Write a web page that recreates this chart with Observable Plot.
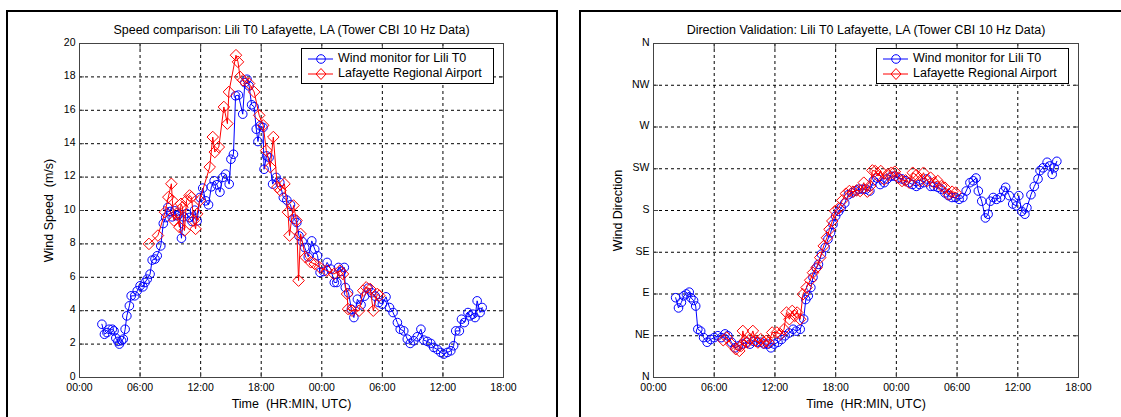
<!DOCTYPE html>
<html>
<head>
<meta charset="utf-8">
<script src="https://cdn.jsdelivr.net/npm/d3@7"></script>
<script src="https://cdn.jsdelivr.net/npm/@observablehq/plot@0.6"></script>
<style>
  html, body { margin: 0; padding: 0; background: white; }
  #wrap { position: relative; width: 1121px; height: 417px; overflow: hidden; background: white;
          font-family: "Liberation Sans", Arial, sans-serif; }
  .panel-svg { position: absolute; top: 0; }
  .border { position: absolute; border: 2px solid black; pointer-events: none; z-index: 5; }
  .legend { position: absolute; border: 1px solid black; background: white; z-index: 6;
            font-size: 12.5px; color: black; box-sizing: border-box; }
  .legend .row { position: absolute; left: 0; height: 14px; display: block; }
  .legend svg { position: absolute; left: 5px; top: 0; }
  .legend span { position: absolute; left: 36px; top: -1px; white-space: nowrap; line-height: 15px; }
</style>
</head>
<body>
<div id="wrap"></div>
<script>
// ---------- DATA ----------
const timeTicks = [0, 6, 12, 18, 24, 30, 36, 42];
const timeTickLabels = ["00:00", "06:00", "12:00", "18:00", "00:00", "06:00", "12:00", "18:00"];
const speedTicks = [0, 2, 4, 6, 8, 10, 12, 14, 16, 18, 20];
const dirTicks = [0, 45, 90, 135, 180, 225, 270, 315, 360];
const dirTickLabels = ["N", "NE", "E", "SE", "S", "SW", "W", "NW", "N"];
const seriesNames = ["Wind monitor for Lili T0", "Lafayette Regional Airport"];

// Wind monitor speed (hours since 00:00 UTC day 1, m/s)
const monitorSpeedHours = [2.22,2.47,2.72,2.93,3.25,3.42,3.60,3.81,3.95,4.17,4.34,4.52,4.69,4.94,5.12,5.47,5.72,6.00,6.28,6.49,6.71,6.99,7.20,7.48,7.70,8.05,8.30,8.54,8.75,8.97,9.18,9.42,9.67,9.88,10.10,10.30,10.60,10.87,11.15,11.40,11.65,11.93,12.21,12.50,12.78,13.06,13.34,13.62,13.91,14.19,14.47,14.83,15.00,15.25,15.46,15.74,16.17,16.38,16.59,16.80,17.05,17.30,17.51,17.68,17.90,18.18,18.28,18.53,18.78,19.13,19.48,19.84,20.19,20.54,20.90,21.25,21.53,21.74,22.06,22.31,22.66,23.01,23.30,23.58,23.83,24.18,24.53,24.89,25.24,25.49,25.66,25.94,26.23,26.33,26.65,26.93,27.18,27.53,27.89,28.24,28.59,28.94,29.30,29.65,30.00,30.36,30.71,31.06,31.49,31.77,32.12,32.47,32.76,33.11,33.46,33.82,34.10,34.45,34.80,35.09,35.44,35.79,36.08,36.43,36.78,37.06,37.27,37.63,37.84,38.12,38.48,38.69,38.97,39.18,39.39,39.68,39.89];
const monitorSpeed = [3.19,2.59,2.69,2.89,2.89,2.79,2.36,2.16,2.00,2.20,2.30,2.89,3.69,4.29,4.89,4.89,5.19,5.49,5.43,5.69,5.89,6.19,7.03,7.09,7.29,7.88,9.22,9.58,10.18,9.94,9.62,9.98,9.68,9.78,8.34,9.62,9.82,9.58,9.34,10.02,9.38,10.78,11.34,10.58,10.34,11.42,11.78,11.54,11.10,11.98,12.18,11.58,13.07,13.37,16.87,16.91,15.77,17.66,17.86,17.46,16.33,16.21,14.87,14.13,15.07,14.97,12.47,13.27,13.17,11.58,11.98,11.68,10.78,10.62,10.34,9.48,9.28,8.48,8.14,7.78,7.23,8.18,7.68,7.29,6.29,6.35,6.89,6.49,5.69,5.69,6.59,6.35,6.59,5.39,5.07,4.09,3.59,4.69,4.35,4.87,5.35,5.07,4.87,4.49,4.39,4.83,4.19,3.89,3.29,2.89,2.79,2.30,2.04,2.20,2.44,2.89,2.24,2.16,2.04,1.80,1.68,1.50,1.40,1.50,1.60,1.90,2.79,2.79,3.49,3.29,3.89,3.69,3.79,3.59,4.59,3.89,4.19];

// Airport speed
const airportSpeedHours = [6.88,7.77,8.47,8.80,9.10,9.20,9.35,9.60,9.90,10.05,10.20,10.40,10.60,10.90,11.10,11.30,11.50,11.65,11.90,12.90,13.20,13.40,13.80,14.30,14.65,14.80,15.50,15.70,15.90,16.20,16.80,17.30,17.80,18.20,18.50,18.90,19.20,19.60,19.90,20.30,20.65,20.80,21.20,21.50,21.70,21.90,22.40,22.90,23.30,23.80,24.50,25.20,25.80,26.10,26.50,26.60,27.00,27.70,28.10,28.40,28.80,29.10,29.50,29.70];
const airportSpeed = [8.0,8.5,9.9,10.8,11.6,10.6,9.4,9.8,9.0,10.4,10.2,8.8,10.6,10.9,10.8,9.4,8.9,9.8,10.6,12.6,14.4,13.5,13.8,16.2,15.2,17.1,19.3,18.9,18.0,17.8,17.6,17.1,15.7,15.1,13.6,12.6,14.4,11.4,11.2,11.6,9.9,8.5,10.3,9.4,5.8,8.6,7.2,6.9,6.8,6.6,6.4,6.2,6.4,6.2,5.0,4.1,4.0,4.0,5.2,5.4,5.3,4.0,5.0,4.9];

// Wind monitor direction (degrees)
const monitorDirHours = [2.19,2.47,2.76,3.00,3.25,3.53,3.70,3.96,4.17,4.38,4.66,4.95,5.30,5.65,6.00,6.36,6.70,7.07,7.35,7.70,8.06,8.40,8.76,9.19,9.54,9.90,10.25,10.60,10.95,11.30,11.60,11.94,12.30,12.65,13.00,13.40,13.80,14.10,14.50,14.84,15.05,15.30,15.55,15.76,16.08,16.30,16.60,16.96,17.24,17.50,17.74,18.00,18.30,18.55,18.90,19.26,19.60,19.96,20.30,20.67,21.00,21.38,21.73,22.08,22.40,22.80,23.10,23.50,23.85,24.20,24.56,24.90,25.26,25.60,25.97,26.30,26.70,27.00,27.40,27.70,28.10,28.40,28.80,29.15,29.50,29.86,30.20,30.57,30.90,31.27,31.60,31.87,32.10,32.44,32.80,33.07,33.29,33.57,33.90,34.28,34.60,34.80,35.16,35.50,35.87,36.10,36.40,36.70,36.90,37.30,37.63,38.00,38.20,38.50,38.90,39.15,39.40,39.60,39.86];
const monitorDir = [86,75,81,88,90,92,86,83,77,52,50,43,38,41,43,45,43,47,45,38,32,34,36,38,36,39,38,38,36,36,32,36,38,41,45,48,52,50,52,63,84,88,97,108,118,122,133,140,149,156,165,174,179,183,188,197,199,201,203,203,203,201,212,215,208,210,214,217,217,215,214,212,210,208,206,208,210,214,206,206,205,203,199,196,194,194,192,194,201,210,212,215,201,190,172,176,190,194,192,194,201,205,196,187,185,196,179,176,183,197,206,214,223,226,232,228,219,226,233];

// Airport direction
const airportDirHours = [6.89,7.24,7.70,8.13,8.48,8.66,8.83,9.01,9.26,9.54,9.82,10.07,10.32,10.60,10.88,11.13,11.38,11.73,12.19,12.54,12.90,13.14,13.43,13.71,13.96,14.20,14.49,14.77,15.12,15.48,15.76,16.11,16.47,16.82,17.14,17.39,17.67,17.95,18.30,18.66,19.01,19.36,19.72,20.07,20.42,20.78,21.13,21.41,21.63,21.91,22.19,22.47,22.79,23.14,23.50,23.85,24.20,24.56,24.91,25.27,25.62,25.97,26.33,26.68,27.03,27.39,27.74,28.09,28.45,28.80,29.15,29.51,29.86];
const airportDir = [40.2,43,35.9,30.5,28.7,34,50.2,39.5,37.7,41.3,50.2,39.5,37.7,41.3,37.7,39.5,37.7,48.5,48.5,46.7,52,70,62.8,71.8,66.4,70,62.8,89.7,96.9,104.8,113,118.4,129.2,141.8,150.7,159.7,168.7,179.5,182.3,190.9,198.1,201,200.3,201.7,201,210,200.3,206.4,223.2,222.5,217.1,222.5,213.5,218.9,220.7,221.8,215.3,211.8,212.5,210,220.7,218.2,211.8,220.7,211.8,215.3,210,211.8,206.4,204.6,197.4,200.3,199.2];

// ---------- BUILD ----------
const zip = (xs, ys) => xs.map((x, i) => ({x, y: ys[i]}));
const FONT = '"Liberation Sans", Arial, Helvetica, sans-serif';
const BLUE = "#0000ff", RED = "#ff0000", FRAME = "#444";

function panel({width, marginLeft, marginRight, yDomain, yTicks, yFormat, title, yLabel, yLabelDx, blue, red}) {
  const tfmt = d => timeTickLabels[timeTicks.indexOf(d)];
  return Plot.plot({
    width, height: 417,
    marginLeft, marginRight, marginTop: 43, marginBottom: 40,
    style: {fontFamily: FONT, fontSize: "10.5px", color: "black", background: "transparent", overflow: "visible"},
    x: {domain: [0, 42]},
    y: {domain: yDomain},
    marks: [
      Plot.gridX(timeTicks, {stroke: "black", strokeOpacity: 1, strokeDasharray: "3,3", strokeWidth: 1}),
      Plot.gridY(yTicks, {stroke: "black", strokeOpacity: 1, strokeDasharray: "3,3", strokeWidth: 1}),
      Plot.frame({stroke: FRAME, strokeWidth: 1}),
      // inward ticks
      Plot.axisX(timeTicks, {anchor: "bottom", tickSize: 5, dy: -5, stroke: FRAME, tickFormat: () => "", label: null}),
      Plot.axisX(timeTicks, {anchor: "top", tickSize: 5, dy: 5, stroke: FRAME, tickFormat: () => "", label: null}),
      Plot.axisY(yTicks, {anchor: "left", tickSize: 5, dx: 5, stroke: FRAME, tickFormat: () => "", label: null}),
      Plot.axisY(yTicks, {anchor: "right", tickSize: 5, dx: -5, stroke: FRAME, tickFormat: () => "", label: null}),
      // labels
      Plot.axisX(timeTicks, {anchor: "bottom", tickSize: 0, tickPadding: 6, tickFormat: tfmt, label: null, fill: "black"}),
      Plot.axisY(yTicks, {anchor: "left", tickSize: 0, tickPadding: 4, dy: -1, tickFormat: yFormat, label: null, fill: "black"}),
      Plot.text([title], {frameAnchor: "top", dy: -14, lineAnchor: "middle", textAnchor: "middle", fontSize: 12.5, fill: "black"}),
      Plot.text(["Time \u00a0(HR:MIN, UTC)"], {frameAnchor: "bottom", dy: 26, lineAnchor: "middle", textAnchor: "middle", fontSize: 12.5, fill: "black"}),
      Plot.text([yLabel], {frameAnchor: "left", dx: yLabelDx, rotate: -90, lineAnchor: "middle", textAnchor: "middle", fontSize: 12.5, fill: "black"}),
      // series
      Plot.line(blue, {x: "x", y: "y", stroke: BLUE, strokeWidth: 1}),
      Plot.dot(blue, {x: "x", y: "y", r: 4.3, stroke: BLUE, fill: "none", strokeWidth: 1}),
      Plot.line(red, {x: "x", y: "y", stroke: RED, strokeWidth: 1}),
      Plot.dot(red, {x: "x", y: "y", r: 5.2, symbol: "diamond2", stroke: RED, fill: "none", strokeWidth: 1})
    ]
  });
}

const wrap = document.getElementById("wrap");

const left = panel({
  width: 560, marginLeft: 79, marginRight: 57,
  yDomain: [0, 20], yTicks: speedTicks, yFormat: d => String(d),
  title: "Speed comparison: Lili T0 Lafayette, LA (Tower CBI 10 Hz Data)",
  yLabel: "Wind Speed \u00a0(m/s)", yLabelDx: -31,
  blue: zip(monitorSpeedHours, monitorSpeed), red: zip(airportSpeedHours, airportSpeed)
});
left.classList.add("panel-svg");
left.style.left = "0px";
wrap.appendChild(left);

const right = panel({
  width: 561, marginLeft: 93, marginRight: 43,
  yDomain: [0, 360], yTicks: dirTicks, yFormat: d => dirTickLabels[dirTicks.indexOf(d)],
  title: "Direction Validation: Lili T0 Lafayette, LA (Tower CBI 10 Hz Data)",
  yLabel: "Wind Direction", yLabelDx: -36,
  blue: zip(monitorDirHours, monitorDir), red: zip(airportDirHours, airportDir)
});
right.classList.add("panel-svg");
right.style.left = "560px";
wrap.appendChild(right);

// panel borders
function border(l, t, w, h) {
  const d = document.createElement("div");
  d.className = "border";
  Object.assign(d.style, {left: l + "px", top: t + "px", width: w + "px", height: h + "px"});
  wrap.appendChild(d);
}
border(6, 10, 548, 440);
border(579, 10, 600, 440);

// legends
function legend(l, t) {
  const d = document.createElement("div");
  d.className = "legend";
  Object.assign(d.style, {left: l + "px", top: t + "px", width: "193px", height: "36px"});
  const rows = [
    {name: seriesNames[0], color: BLUE, shape: '<circle cx="14" cy="7" r="4.3" fill="none" stroke="' + BLUE + '"/>'},
    {name: seriesNames[1], color: RED, shape: '<polygon points="14,1.5 19,7 14,12.5 9,7" fill="none" stroke="' + RED + '"/>'}
  ];
  rows.forEach((r, i) => {
    const row = document.createElement("div");
    row.className = "row";
    row.style.top = (3 + i * 15) + "px";
    row.style.width = "190px";
    row.innerHTML = '<svg width="28" height="14"><line x1="1" x2="26" y1="7" y2="7" stroke="' + r.color + '" stroke-width="1"/>' + r.shape + '</svg><span>' + r.name + '</span>';
    d.appendChild(row);
  });
  wrap.appendChild(d);
}
legend(301, 48);
legend(876, 48);
</script>
</body>
</html>
